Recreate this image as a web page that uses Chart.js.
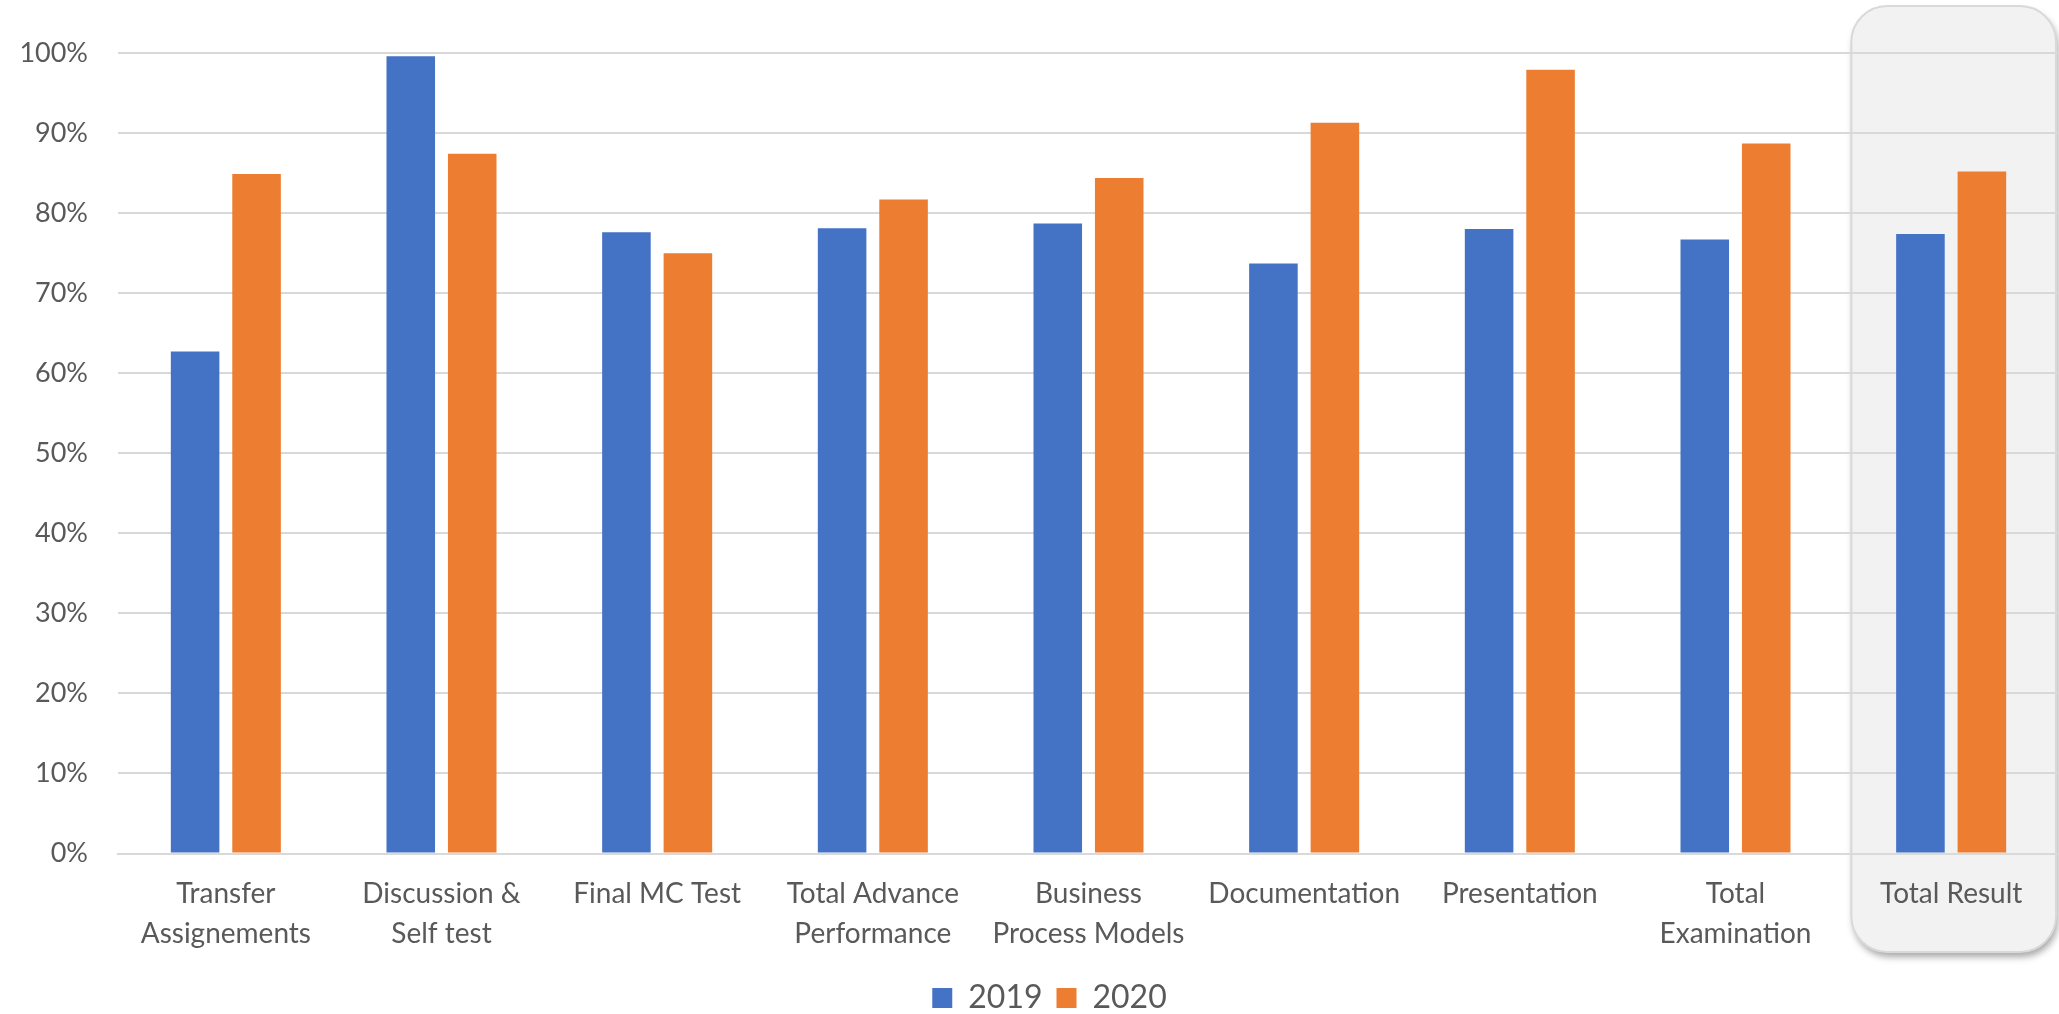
<!DOCTYPE html>
<html>
<head>
<meta charset="utf-8">
<script src="https://cdn.jsdelivr.net/npm/chart.js@4"></script>
<style>
  html, body { margin: 0; padding: 0; background: #ffffff; }
  #wrap { width: 2059px; height: 1014px; }
</style>
</head>
<body>
<div id="wrap"><canvas id="myChart" width="2059" height="1014"></canvas></div>
<script>
const categories = [
    ['Transfer', 'Assignements'],
    ['Discussion &', 'Self test'],
    'Final MC Test',
    ['Total Advance', 'Performance'],
    ['Business', 'Process Models'],
    'Documentation',
    'Presentation',
    ['Total', 'Examination'],
    'Total Result'
];
const values2019 = [0.627, 0.996, 0.776, 0.781, 0.787, 0.737, 0.780, 0.767, 0.774];
const values2020 = [0.849, 0.874, 0.750, 0.817, 0.844, 0.913, 0.979, 0.887, 0.852];
const seriesNames = ['2019', '2020'];

const textColor = '#595959';
const fontFamily = 'Lato, "Liberation Sans", sans-serif';

// rounded grey box behind the last category
const highlightBox = {
    id: 'highlightBox',
    afterLayout(chart) {
        // legend sits a little right of the canvas centre
        chart.legend.left = 40;
    },
    beforeDraw(chart) {
        const x = chart.scales.x;
        const idx = categories.length - 1;
        const half = (x.getPixelForValue(idx) - x.getPixelForValue(idx - 1)) / 2;
        const left = x.getPixelForValue(idx) - half + 8;
        const right = Math.min(x.getPixelForValue(idx) + half - 3, chart.width - 2);
        const top = 6;
        const bottom = 952;
        const r = 36;
        const ctx = chart.ctx;
        ctx.save();
        ctx.beginPath();
        ctx.roundRect(left, top, right - left, bottom - top, r);
        ctx.shadowColor = 'rgba(0,0,0,0.35)';
        ctx.shadowBlur = 7;
        ctx.shadowOffsetX = 2;
        ctx.shadowOffsetY = 5;
        ctx.fillStyle = '#f2f2f2';
        ctx.fill();
        ctx.shadowColor = 'transparent';
        ctx.lineWidth = 2;
        ctx.strokeStyle = '#d9d9d9';
        ctx.stroke();
        ctx.restore();
    }
};

const chart = new Chart(document.getElementById('myChart').getContext('2d'), {
    type: 'bar',
    data: {
        labels: categories,
        datasets: [{
            label: seriesNames[0],
            data: values2019,
            backgroundColor: '#4472C4',
            categoryPercentage: 0.57,
            barPercentage: 0.79
        }, {
            label: seriesNames[1],
            data: values2020,
            backgroundColor: '#ED7D31',
            categoryPercentage: 0.57,
            barPercentage: 0.79
        }]
    },
    options: {
        responsive: false,
        animation: false,
        layout: {
            padding: { top: 53, left: 0, right: 0, bottom: -10 }
        },
        plugins: {
            legend: {
                position: 'bottom',
                labels: {
                    boxWidth: 20,
                    boxHeight: 20,
                    padding: 14,
                    color: textColor,
                    font: { family: fontFamily, size: 32 }
                }
            },
            tooltip: { enabled: false }
        },
        scales: {
            x: {
                grid: { display: false },
                border: { color: '#d9d9d9', width: 2 },
                ticks: {
                    color: textColor,
                    maxRotation: 0,
                    autoSkip: false,
                    padding: 13,
                    font: { family: fontFamily, size: 28, lineHeight: 1.41 }
                },
                afterFit: (s) => { s.height = 114.5; }
            },
            y: {
                min: 0,
                max: 1,
                grid: { color: '#d9d9d9', lineWidth: 2, drawTicks: false },
                border: { display: false },
                ticks: {
                    stepSize: 0.1,
                    color: textColor,
                    padding: 30,
                    font: { family: fontFamily, size: 27 },
                    callback: (v) => Math.round(v * 100) + '%'
                },
                afterFit: (s) => { s.width = 118; }
            }
        }
    },
    plugins: [highlightBox]
});
</script>
</body>
</html>
